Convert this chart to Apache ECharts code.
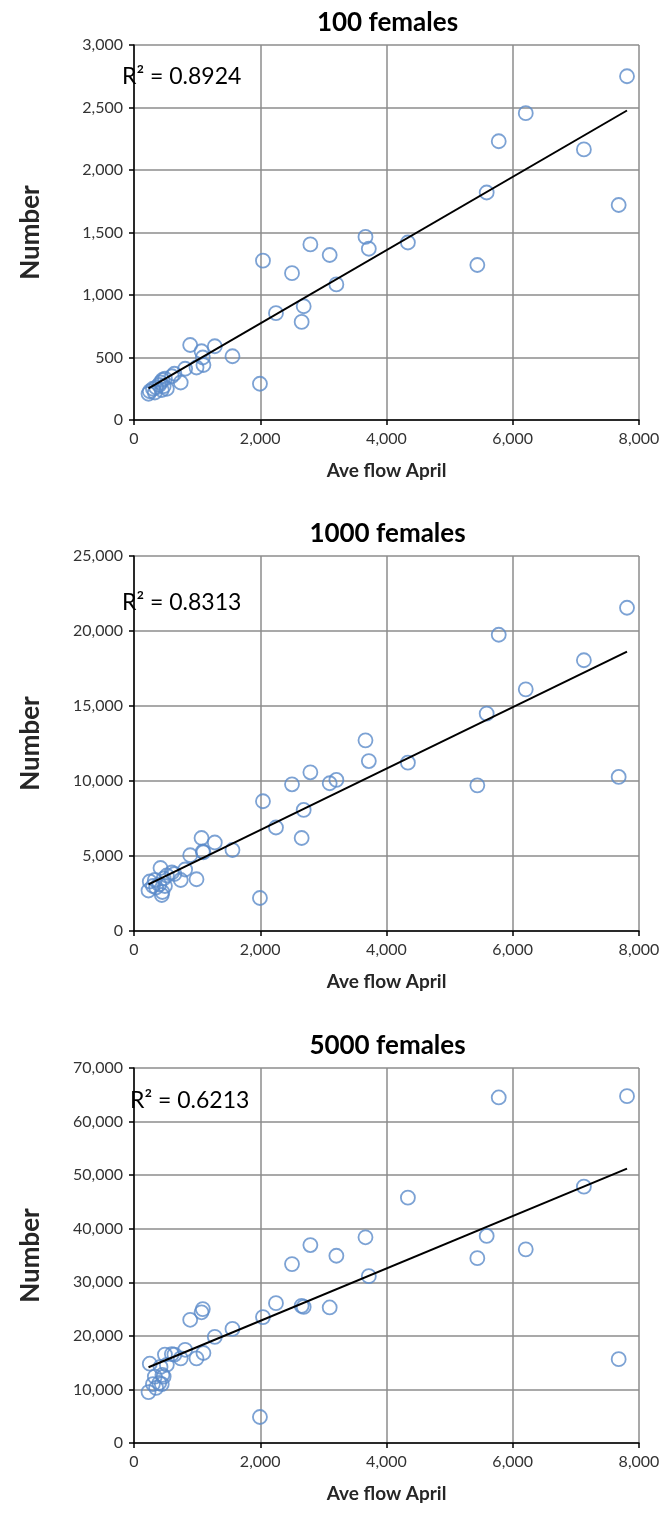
<!DOCTYPE html>
<html>
<head>
<meta charset="utf-8">
<script src="https://cdn.jsdelivr.net/npm/echarts@6/dist/echarts.min.js"></script>
<style>
html,body{margin:0;padding:0;background:#fff;}
#chart{width:666px;height:1519px;}
</style>
</head>
<body>
<div id="chart"></div>
<script>
// ---- data ----
const aveFlowApril = [230, 250, 300, 330, 350, 400, 420, 440, 450, 470, 490, 520, 600, 640, 740, 810, 890, 990, 1070, 1090, 1100, 1280, 1560,
  1995, 2043, 2249, 2503, 2656, 2688, 2794, 3100, 3206, 3667, 3720, 4339, 5439, 5587, 5778, 6206, 7127, 7678, 7810];
const number100 = [210, 230, 250, 220, 260, 280, 300, 240, 320, 270, 330, 250, 350, 370, 300, 410, 600, 420, 550, 500, 440, 590, 510,
  290, 1275, 855, 1175, 785, 910, 1405, 1320, 1085, 1465, 1370, 1420, 1240, 1820, 2230, 2455, 2165, 1720, 2750];
const number1000 = [2700, 3300, 3000, 3400, 2900, 3100, 4200, 2400, 2600, 3500, 3000, 3700, 3900, 3800, 3400, 4100, 5050, 3450, 6200, 5300, 5250, 5900, 5400,
  2200, 8650, 6900, 9780, 6200, 8070, 10580, 9850, 10070, 12710, 11330, 11220, 9710, 14490, 19750, 16110, 18050, 10270, 21550];
const number5000 = [9500, 14800, 11000, 12400, 10300, 11200, 14200, 11000, 12700, 12400, 16500, 14600, 16600, 16500, 15800, 17400, 23000, 15800, 24400, 25000, 16800, 19800, 21300,
  4850, 23500, 26100, 33400, 25600, 25400, 36950, 25300, 34950, 38400, 31150, 45800, 34500, 38650, 64500, 36150, 47850, 15650, 64750];
const panelTitles = ['100 females', '1000 females', '5000 females'];
const r2Labels = ['R\u00b2 = 0.8924', 'R\u00b2 = 0.8313', 'R\u00b2 = 0.6213'];
const yMaxes = [3000, 25000, 70000];
const yIntervals = [500, 5000, 10000];
const xMin = 0, xMax = 8000, xInterval = 2000;
const xAxisName = 'Ave flow April';
const yAxisName = 'Number';

// ---- layout ----
const series = [number100, number1000, number5000];
const gridTops = [45, 556, 1068];
const gridLeft = 134, gridWidth = 505, gridHeight = 375;
const r2Pos = [[122, 77], [122, 603], [130, 1101]];
const fontFam = 'Lato, "Open Sans", sans-serif';

function fit(xs, ys) {
  const n = xs.length;
  let sx = 0, sy = 0, sxx = 0, sxy = 0;
  for (let i = 0; i < n; i++) { sx += xs[i]; sy += ys[i]; sxx += xs[i] * xs[i]; sxy += xs[i] * ys[i]; }
  const b = (n * sxy - sx * sy) / (n * sxx - sx * sx);
  const a = (sy - b * sx) / n;
  const lo = Math.min(...xs), hi = Math.max(...xs);
  return [[lo, a + b * lo], [hi, a + b * hi]];
}
const fmt = v => Number(v).toLocaleString('en-US');

const grids = [], xAxes = [], yAxes = [], ser = [], graphics = [];
for (let i = 0; i < 3; i++) {
  grids.push({ left: gridLeft, top: gridTops[i], width: gridWidth, height: gridHeight, containLabel: false });
  xAxes.push({
    gridIndex: i, type: 'value', min: xMin, max: xMax, interval: xInterval,
    name: xAxisName, nameLocation: 'middle', nameGap: 41,
    nameTextStyle: { fontFamily: fontFam, fontWeight: 'bold', fontSize: 19, color: '#262626' },
    axisLine: { show: true, onZero: false, lineStyle: { color: '#000', width: 1.5 } },
    axisTick: { show: true, inside: false, length: 5, lineStyle: { color: '#000', width: 1.5 } },
    axisLabel: { margin: 11, fontFamily: fontFam, fontSize: 16, color: '#333', formatter: fmt },
    splitLine: { show: true, lineStyle: { color: '#8c8c8c', width: 1.5 } }
  });
  yAxes.push({
    gridIndex: i, type: 'value', min: 0, max: yMaxes[i], interval: yIntervals[i],
    name: yAxisName, nameLocation: 'middle', nameGap: 90, nameRotate: 90,
    nameTextStyle: { fontFamily: fontFam, fontWeight: 'bold', fontSize: 26, color: '#262626' },
    axisLine: { show: true, onZero: false, lineStyle: { color: '#000', width: 1.5 } },
    axisTick: { show: true, inside: false, length: 5, lineStyle: { color: '#000', width: 1.5 } },
    axisLabel: { margin: 11, fontFamily: fontFam, fontSize: 16, color: '#333', formatter: fmt },
    splitLine: { show: true, lineStyle: { color: '#8c8c8c', width: 1.5 } }
  });
  const pts = aveFlowApril.map((x, k) => [x, series[i][k]]);
  ser.push({
    type: 'scatter', xAxisIndex: i, yAxisIndex: i, data: pts,
    symbol: 'circle', symbolSize: 14,
    itemStyle: { color: 'rgba(255,255,255,0)', borderColor: '#5b8bc9', borderWidth: 1.8 },
    z: 3
  });
  ser.push({
    type: 'line', xAxisIndex: i, yAxisIndex: i, data: fit(aveFlowApril, series[i]),
    symbol: 'none', lineStyle: { color: '#000', width: 2 }, z: 4, silent: true
  });
  graphics.push({
    type: 'text', x: gridLeft + gridWidth / 2 + 1, y: gridTops[i] - 22,
    style: { text: panelTitles[i], textAlign: 'center', textVerticalAlign: 'middle',
      font: 'bold 26px ' + fontFam, fill: '#000' }
  });
  graphics.push({
    type: 'text', x: r2Pos[i][0], y: r2Pos[i][1], z: 10,
    style: { text: r2Labels[i], textAlign: 'left', textVerticalAlign: 'middle',
      font: '23px ' + fontFam, fill: '#000' }
  });
}

const chart = echarts.init(document.getElementById('chart'), null, { renderer: 'canvas' });
chart.setOption({
  animation: false,
  backgroundColor: '#fff',
  grid: grids, xAxis: xAxes, yAxis: yAxes, series: ser, graphic: graphics
});
</script>
</body>
</html>
